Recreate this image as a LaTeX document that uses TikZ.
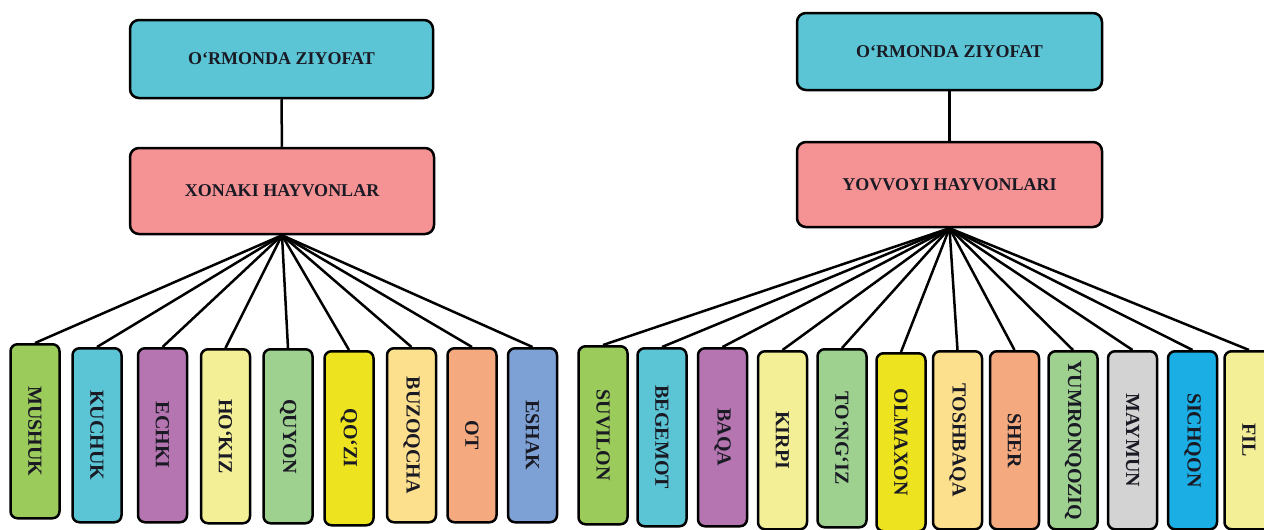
\documentclass[tikz,border=0pt]{standalone}
\usepackage{fontspec}
\setmainfont{Liberation Serif}
\definecolor{cCyan}{HTML}{5BC5D5}
\definecolor{cPink}{HTML}{F49294}
\definecolor{cGreenA}{HTML}{9BCB5B}
\definecolor{cPurple}{HTML}{B475B1}
\definecolor{cLYellow}{HTML}{F3EF97}
\definecolor{cLGreen}{HTML}{9ED08F}
\definecolor{cYellow}{HTML}{EDE41F}
\definecolor{cCream}{HTML}{FDE08E}
\definecolor{cOrange}{HTML}{F4A97E}
\definecolor{cBlue}{HTML}{7EA1D5}
\definecolor{cGray}{HTML}{D3D3D3}
\definecolor{cSky}{HTML}{1BAEE4}
\definecolor{txt}{HTML}{1A1A24}
\tikzset{
  headbox/.style={draw=black, line width=2.5pt, rounded corners=9pt, inner sep=0pt,
    text=txt, font=\fontsize{18}{20}\selectfont\bfseries},
  leafbox/.style={draw=black, line width=2.5pt, rounded corners=7pt, inner sep=0pt,
    minimum width=49pt, text=txt, font=\fontsize{20}{22}\selectfont\bfseries},
  link/.style={draw=black, line width=2.5pt}
}
\newcommand{\vtxt}[1]{\rotatebox{-90}{#1}}
\begin{document}
\begin{tikzpicture}[x=1pt,y=-1pt]
\fill[white] (0,0) rectangle (1264,530);
\useasboundingbox (0,0) rectangle (1264,530);
% left tree
\node[headbox, fill=cCyan, minimum width=303pt, minimum height=78pt] (lt) at (281.5,59) {O‘RMONDA ZIYOFAT};
\node[headbox, fill=cPink, minimum width=304pt, minimum height=86pt] (lm) at (282,191) {XONAKI HAYVONLAR};
\draw[link] (lt) -- (lm);
\foreach \n/\x/\t/\c/\lab in {
  l1/35/343/cGreenA/MUSHUK,
  l2/97/347/cCyan/KUCHUK,
  l3/162.5/347/cPurple/ECHKI,
  l4/225.5/348/cLYellow/HO‘KIZ,
  l5/288/348/cLGreen/QUYON,
  l6/349/350/cYellow/QO‘ZI,
  l7/411.5/347/cCream/BUZOQCHA,
  l8/472/347/cOrange/OT,
  l9/532.5/347/cBlue/ESHAK}{
  \node[leafbox, fill=\c, minimum height=174pt, anchor=north] (\n) at (\x,\t) {\vtxt{\lab}};
  \draw[link] (lm.south) -- (\n.north);
}
% right tree
\node[headbox, fill=cCyan, minimum width=305pt, minimum height=77pt] (rt) at (949.5,51.5) {O‘RMONDA ZIYOFAT};
\node[headbox, fill=cPink, minimum width=305pt, minimum height=85pt] (rm) at (949.5,184.5) {YOVVOYI HAYVONLARI};
\draw[link] (rt) -- (rm);
\foreach \n/\x/\t/\c/\lab in {
  r1/603/345/cGreenA/SUVILON,
  r2/662/347/cCyan/BEGEMOT,
  r3/722.5/347/cPurple/BAQA,
  r4/782.5/350/cLYellow/KIRPI,
  r5/842/348/cLGreen/TO‘NG‘IZ,
  r6/901/352/cYellow/OLMAXON,
  r7/957.5/350/cCream/TOSHBAQA,
  r8/1014.5/350/cOrange/SHER,
  r9/1073/350/cLGreen/YUMRONQOZIQ,
  r10/1132.5/350/cGray/MAYMUN,
  r11/1192.5/350/cSky/SICHQON,
  r12/1249/350/cLYellow/FIL}{
  \node[leafbox, fill=\c, minimum height=178pt, anchor=north] (\n) at (\x,\t) {\vtxt{\lab}};
  \draw[link] (rm.south) -- (\n.north);
}
\end{tikzpicture}
\end{document}
